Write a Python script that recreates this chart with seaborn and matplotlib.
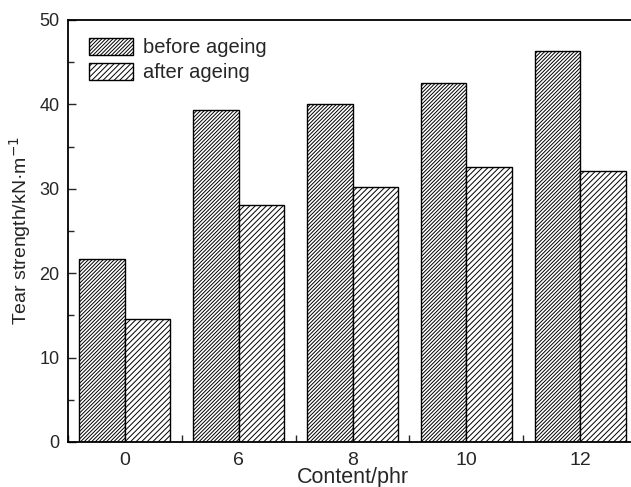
import matplotlib
matplotlib.use("Agg")
import matplotlib.pyplot as plt
import seaborn as sns
import pandas as pd
from matplotlib.patches import Patch
from matplotlib.ticker import MultipleLocator, FixedLocator

categories = ["0", "6", "8", "10", "12"]
before_ageing = [21.7, 39.3, 40.0, 42.5, 46.3]
after_ageing = [14.6, 28.1, 30.2, 32.6, 32.1]
series = ["before ageing", "after ageing"]

df = pd.DataFrame({
    "Content": categories * 2,
    "Tear": before_ageing + after_ageing,
    "Series": [series[0]] * len(categories) + [series[1]] * len(categories),
})

sns.set_style("ticks")
plt.rcParams['font.family'] = ['Liberation Sans', 'DejaVu Sans']
plt.rcParams['hatch.linewidth'] = 0.7
plt.rcParams['xtick.direction'] = 'in'
plt.rcParams['ytick.direction'] = 'in'

fig = plt.figure(figsize=(6.31, 4.87), dpi=100)
ax = fig.add_axes([68 / 631, 1 - 442 / 487, 569 / 631, 422 / 487])

sns.barplot(data=df, x="Content", y="Tear", hue="Series", order=categories,
            hue_order=series, palette=["white", "white"], edgecolor="black",
            linewidth=1.0, width=0.8, legend=False, ax=ax)

hatches = ["/" * 9, "/" * 6]
for cont, h in zip(ax.containers, hatches):
    for p in cont:
        p.set_hatch(h)
        p.set_facecolor("white")
        p.set_edgecolor("black")

ax.set_xlim(-0.5, len(categories) - 0.5)
ax.set_ylim(0, 50)
ax.yaxis.set_major_locator(MultipleLocator(10))
ax.yaxis.set_minor_locator(MultipleLocator(5))
ax.xaxis.set_minor_locator(FixedLocator([i + 0.5 for i in range(-1, len(categories))]))
ax.tick_params(axis='x', which='major', length=0, labelsize=14, pad=7)
ax.tick_params(axis='x', which='minor', length=5, width=1)
ax.tick_params(axis='y', which='major', length=6, width=1, labelsize=13, pad=6)
ax.tick_params(axis='y', which='minor', length=4, width=1)

for s in ["left", "bottom", "top"]:
    ax.spines[s].set_linewidth(1.3)
    ax.spines[s].set_color("black")
ax.spines["right"].set_visible(False)

ax.set_xlabel("Content/phr", fontsize=15.5, labelpad=-1)
ax.set_ylabel("Tear strength/kN·m$^{-1}$", fontsize=14, labelpad=5)

handles = [Patch(facecolor="white", edgecolor="black", hatch=h, linewidth=1.0) for h in hatches]
ax.legend(handles, series, loc="upper left", frameon=False, fontsize=14.5,
          handlelength=2.2, handleheight=0.87, handletextpad=0.45,
          labelspacing=0.3, borderaxespad=0.0, bbox_to_anchor=(0.023, 0.976))

fig.savefig("out.png", dpi=100)
